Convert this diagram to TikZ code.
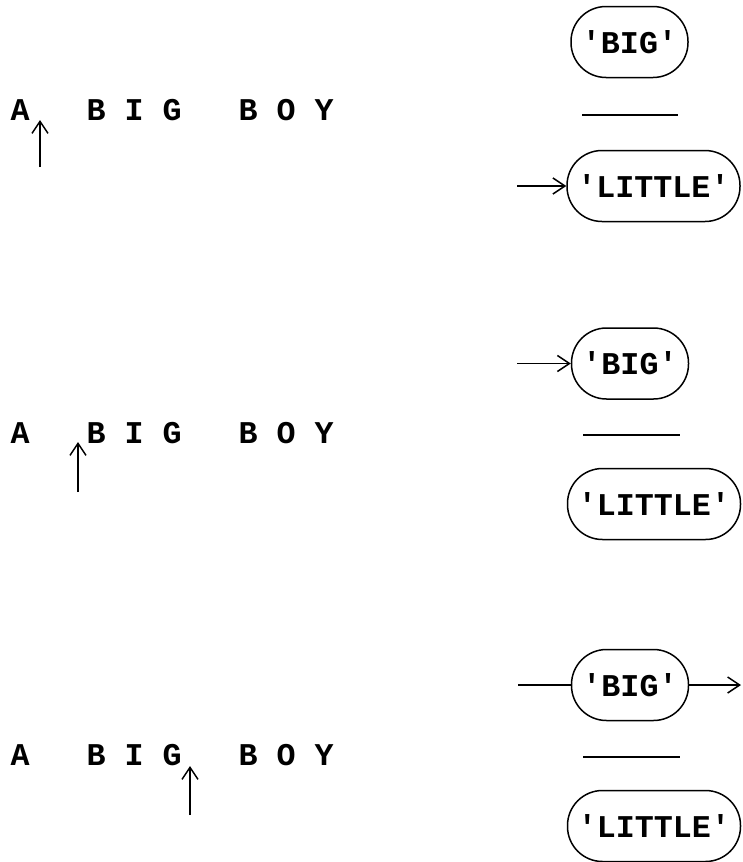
\documentclass[tikz,border=0pt]{standalone}
\usepackage{fontspec}
\setmonofont{Liberation Mono}
\usetikzlibrary{arrows.meta}
\tikzset{
  txt/.style={font=\ttfamily\bfseries\fontsize{31.67}{36}\selectfont, inner sep=0pt},
  oval/.style={draw, line width=1.5pt, rounded corners=35pt, minimum height=71pt, inner sep=0pt,
     font=\ttfamily\bfseries\fontsize{31.67}{36}\selectfont},
  ptr/.style={line width=1.5pt, -{Straight Barb[length=12pt,width=16pt,line width=1.5pt]}},
  plain/.style={line width=1.5pt},
  sep/.style={line width=1.3pt}
}
\begin{document}
\begin{tikzpicture}[x=1pt,y=-1pt]
\useasboundingbox (0,0) rectangle (742,862);
% ---------- row 1 ----------
\node[txt, anchor=base west] (s1) at (10.5,120) {A~~~B~I~G~~~B~O~Y};
\coordinate (p1a) at (40,167);
\coordinate (p1b) at (40,120);
\draw[ptr] (p1a) -- (p1b);
\node[oval, minimum width=117pt] (big1) at (629.5,42) {'BIG'};
\draw[sep] (582,115) -- (678,115);
\node[oval, minimum width=173pt] (lit1) at (653.5,186) {'LITTLE'};
\coordinate (in1) at (517,186);
\draw[ptr] (in1) -- (lit1.west);
% ---------- row 2 ----------
\node[txt, anchor=base west] (s2) at (10.5,443) {A~~~B~I~G~~~B~O~Y};
\coordinate (p2a) at (78,492);
\coordinate (p2b) at (78,442);
\draw[ptr] (p2a) -- (p2b);
\node[oval, minimum width=117pt] (big2) at (630,363.5) {'BIG'};
\draw[sep] (583,435) -- (680,435);
\node[oval, minimum width=173pt] (lit2) at (654,504) {'LITTLE'};
\coordinate (in2) at (517,363.5);
\draw[ptr] (in2) -- (big2.west);
% ---------- row 3 ----------
\node[txt, anchor=base west] (s3) at (10.5,765) {A~~~B~I~G~~~B~O~Y};
\coordinate (p3a) at (190,815);
\coordinate (p3b) at (190,766);
\draw[ptr] (p3a) -- (p3b);
\node[oval, minimum width=117pt] (big3) at (630,685) {'BIG'};
\draw[sep] (583,757) -- (680,757);
\node[oval, minimum width=173pt] (lit3) at (654,826) {'LITTLE'};
\coordinate (in3) at (518,685);
\coordinate (out3) at (741,685);
\draw[plain] (in3) -- (big3.west);
\draw[ptr] (big3.east) -- (out3);
\end{tikzpicture}
\end{document}
